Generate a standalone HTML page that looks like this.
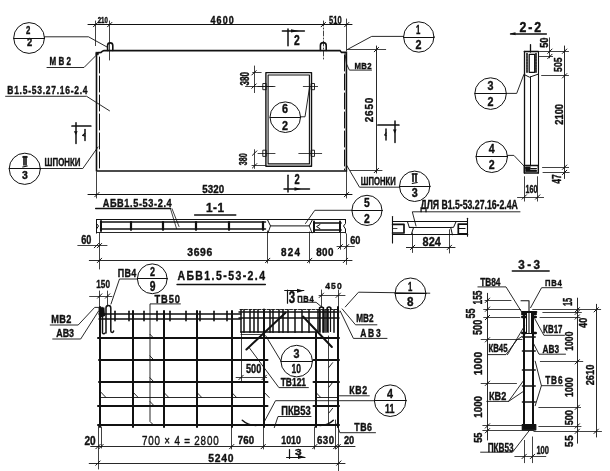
<!DOCTYPE html><html><head><meta charset="utf-8"><style>html,body{margin:0;padding:0;background:#fff;overflow:hidden}svg{display:block;will-change:transform}text{font-family:"Liberation Sans",sans-serif;fill:#111;stroke:#111;stroke-width:0.4px}</style></head><body>
<svg width="610" height="471" viewBox="0 0 610 471"><g stroke="#111" fill="none" stroke-linecap="round" stroke-linejoin="round">
<polyline points="96.5,171 96.5,53.6 98.8,52.6 101,52.4 102.5,51.2 104,50.6 340,50.6 341.5,52.4 346.4,52.4 346.4,171 96.5,171" stroke-width="1.6" fill="none" stroke-linejoin="miter"/>
<rect x="96" y="52.2" width="2.4" height="2.6" stroke-width="0.5" fill="#111"/>
<line x1="99.5" y1="57" x2="99.5" y2="170" stroke-width="1.0" stroke-dasharray="16,3"/>
<line x1="344.5" y1="55" x2="344.5" y2="170" stroke-width="1.0" stroke-dasharray="16,3"/>
<path d="M107.6,50.5 L107.6,45.5 A2.6,2.6 0 0 1 112.8,45.5 L112.8,50.5" stroke-width="1.6" fill="none" />
<path d="M320.4,50.5 L320.4,45.5 A2.9,2.9 0 0 1 326.2,45.5 L326.2,50.5" stroke-width="1.6" fill="none" />
<line x1="88" y1="24.5" x2="352" y2="24.5" stroke-width="1.0" />
<line x1="95.5" y1="21" x2="95.5" y2="45.6" stroke-width="0.8" />
<line x1="109.5" y1="21" x2="109.5" y2="60" stroke-width="0.8" />
<line x1="323.5" y1="21" x2="323.5" y2="61" stroke-width="0.8" stroke-dasharray="5,2,1,2"/>
<line x1="346.5" y1="19" x2="346.5" y2="51" stroke-width="0.8" />
<line x1="93.4" y1="26.8" x2="97.8" y2="22.4" stroke-width="1.0" />
<line x1="107.5" y1="26.8" x2="111.9" y2="22.4" stroke-width="1.0" />
<line x1="321.1" y1="26.8" x2="325.5" y2="22.4" stroke-width="1.0" />
<line x1="344.5" y1="26.8" x2="348.9" y2="22.4" stroke-width="1.0" />
<text transform="translate(97.65,22.6) " font-size="8.21" font-weight="bold" textLength="10.2" lengthAdjust="spacingAndGlyphs">210</text>
<text transform="translate(210.4,23.8) scale(0.88,1)" font-size="10.15" font-weight="bold" textLength="26.59" lengthAdjust="spacing">4600</text>
<text transform="translate(329.08,23.9) " font-size="10.6" font-weight="bold" textLength="12.6" lengthAdjust="spacingAndGlyphs">510</text>
<circle cx="29.1" cy="38" r="15.4" stroke-width="1.0" fill="none"/>
<line x1="13.7" y1="38.5" x2="44.5" y2="38.5" stroke-width="1.0" />
<text transform="translate(25.96,33.7) scale(0.69,1)" font-size="11.34" font-weight="bold">2</text>
<text transform="translate(27.06,46.4) scale(0.83,1)" font-size="11.34" font-weight="bold">2</text>
<polyline points="44.5,36.8 88.5,36.8 107,47" stroke-width="0.9" fill="none" />
<text transform="translate(49.4,65) scale(0.8,1)" font-size="10" font-weight="bold" textLength="27" lengthAdjust="spacing">МВ2</text>
<polyline points="47,67.5 84,67.5 96.8,54.7" stroke-width="0.9" fill="none" />
<text transform="translate(7.28,93.7) scale(0.8,1)" font-size="10.6" font-weight="bold" textLength="100.38" lengthAdjust="spacing">В1.5-53.27.16-2.4</text>
<polyline points="5.6,96.3 86.6,96.3 109.5,110.8" stroke-width="0.9" fill="none" />
<line x1="76" y1="122.7" x2="76" y2="143.4" stroke-width="1.5" />
<line x1="72" y1="126" x2="90.8" y2="126" stroke-width="1.7" />
<polygon points="73.9,131.2 77.7,131.2 75.8,135" fill="#111" stroke="none"/>
<line x1="85" y1="129.4" x2="85" y2="140.5" stroke-width="1.5" />
<polyline points="84.95,133.28 82.6,135.5 84.95,136.06" stroke-width="1.1" fill="none" />
<circle cx="24.8" cy="168.8" r="15.6" stroke-width="1.0" fill="none"/>
<line x1="9.2" y1="168.5" x2="40.4" y2="168.5" stroke-width="1.0" />
<line x1="22.8" y1="157" x2="27.2" y2="157" stroke-width="1.4" />
<line x1="24" y1="156.5" x2="24" y2="165" stroke-width="1.6" />
<line x1="26" y1="156.5" x2="26" y2="165" stroke-width="1.6" />
<line x1="22.8" y1="167" x2="27.2" y2="166" stroke-width="1.2" />
<text transform="translate(21.96,179) scale(0.93,1)" font-size="11.19" font-weight="bold">3</text>
<polyline points="40.4,168.5 82.8,168.5 98,147" stroke-width="0.9" fill="none" />
<text transform="translate(44.59,165.7) " font-size="10.3" font-weight="bold" textLength="35.9" lengthAdjust="spacingAndGlyphs">ШПОНКИ</text>
<rect x="265.9" y="72.6" width="45.6" height="93.6" stroke-width="1.4" fill="none"/>
<rect x="268.1" y="75" width="41.3" height="88.9" stroke-width="1.1" fill="none"/>
<rect x="263.2" y="83.5" width="3" height="6.2" stroke-width="0.9" fill="none"/>
<rect x="311.5" y="83.5" width="3" height="6.2" stroke-width="0.9" fill="none"/>
<rect x="263.2" y="150.2" width="3" height="6.2" stroke-width="0.9" fill="none"/>
<rect x="311.5" y="150.2" width="3" height="6.2" stroke-width="0.9" fill="none"/>
<line x1="258" y1="86.5" x2="275" y2="86.5" stroke-width="0.8" />
<line x1="303.3" y1="86.5" x2="317.6" y2="86.5" stroke-width="0.8" />
<line x1="258" y1="153.5" x2="275" y2="153.5" stroke-width="0.8" />
<line x1="298.8" y1="153.5" x2="321.7" y2="153.5" stroke-width="0.8" />
<line x1="254.5" y1="66" x2="254.5" y2="92.6" stroke-width="0.8" />
<line x1="252.7" y1="72.5" x2="261.2" y2="72.5" stroke-width="0.8" />
<line x1="245.5" y1="86.5" x2="273" y2="86.5" stroke-width="0.8" />
<line x1="251.8" y1="75" x2="256.2" y2="70.6" stroke-width="1.0" />
<line x1="251.8" y1="88.3" x2="256.2" y2="83.9" stroke-width="1.0" />
<text transform="translate(248.6,85.47) rotate(-90) " font-size="12.24" font-weight="bold" textLength="13.6" lengthAdjust="spacingAndGlyphs">380</text>
<line x1="254.5" y1="149.7" x2="254.5" y2="168.4" stroke-width="0.8" />
<line x1="252" y1="165.5" x2="265.7" y2="165.5" stroke-width="0.8" />
<line x1="252.4" y1="155.3" x2="256.8" y2="150.9" stroke-width="1.0" />
<line x1="252.4" y1="168" x2="256.8" y2="163.6" stroke-width="1.0" />
<text transform="translate(247,165.3) rotate(-90) " font-size="10.15" font-weight="bold" textLength="11.9" lengthAdjust="spacingAndGlyphs">380</text>
<circle cx="285.3" cy="117.2" r="15.3" stroke-width="1.0" fill="none"/>
<line x1="270" y1="117.5" x2="300.6" y2="117.5" stroke-width="1.0" />
<text transform="translate(282.12,113) scale(0.85,1)" font-size="12.69" font-weight="bold">6</text>
<text transform="translate(282.1,130) scale(0.8,1)" font-size="13.43" font-weight="bold">2</text>
<polyline points="300.6,116.8 305,116.8 309.5,87.6" stroke-width="0.9" fill="none" />
<line x1="288" y1="29.1" x2="288" y2="45.8" stroke-width="1.5" />
<line x1="282.4" y1="31" x2="304.4" y2="31" stroke-width="1.5" />
<polygon points="291,29.2 299,30.9 291,32.6" fill="#111" stroke="none"/>
<text transform="translate(293.89,44.6) scale(0.75,1)" font-size="13.73" font-weight="bold">2</text>
<line x1="288" y1="175.3" x2="288" y2="192" stroke-width="1.5" />
<line x1="284" y1="189" x2="309.5" y2="189" stroke-width="1.5" />
<polygon points="294.5,187.3 301,189 294.5,190.7" fill="#111" stroke="none"/>
<text transform="translate(294.45,183.7) scale(0.62,1)" font-size="15.07" font-weight="bold">2</text>
<circle cx="418.8" cy="37" r="15.2" stroke-width="1.0" fill="none"/>
<line x1="403.6" y1="37.5" x2="434" y2="37.5" stroke-width="1.0" />
<text transform="translate(416.1,33.5) scale(0.58,1)" font-size="13.43" font-weight="bold">1</text>
<text transform="translate(415.62,48.5) scale(0.85,1)" font-size="12.69" font-weight="bold">2</text>
<polyline points="403.6,36.4 371.7,36.4 347.2,49.6" stroke-width="0.9" fill="none" />
<text transform="translate(354.51,68.5) scale(0.8,1)" font-size="9.7" font-weight="bold" textLength="21.25" lengthAdjust="spacing">МВ2</text>
<polyline points="371.5,70.1 349.4,70.1 346.5,64 345,53.5" stroke-width="0.9" fill="none" />
<line x1="347.5" y1="49.5" x2="385.7" y2="49.5" stroke-width="0.8" />
<line x1="350.4" y1="170.5" x2="382" y2="170.5" stroke-width="0.8" />
<line x1="376.5" y1="46" x2="376.5" y2="173" stroke-width="0.9" />
<line x1="374.2" y1="51.8" x2="378.6" y2="47.4" stroke-width="1.0" />
<line x1="374.2" y1="172.7" x2="378.6" y2="168.3" stroke-width="1.0" />
<text transform="translate(372.5,122.24) rotate(-90) scale(0.88,1)" font-size="11.34" font-weight="bold" textLength="27.95" lengthAdjust="spacing">2650</text>
<line x1="377.9" y1="125" x2="398.9" y2="125" stroke-width="1.7" />
<line x1="395" y1="121.1" x2="395" y2="142.4" stroke-width="1.5" />
<polygon points="392.9,129.5 396.6,129.5 394.8,133.5" fill="#111" stroke="none"/>
<line x1="386" y1="129.1" x2="386" y2="139.9" stroke-width="1.5" />
<polyline points="386.15,132.88 384.6,135.04 386.15,135.58" stroke-width="1.1" fill="none" />
<polyline points="346.7,165.4 359.5,187.2 399.5,187.2" stroke-width="0.9" fill="none" />
<text transform="translate(360.8,184.8) " font-size="10.15" font-weight="bold" textLength="34.9" lengthAdjust="spacingAndGlyphs">ШПОНКИ</text>
<circle cx="414.7" cy="186.3" r="15.2" stroke-width="1.0" fill="none"/>
<line x1="399.5" y1="186.5" x2="429.9" y2="186.5" stroke-width="1.0" />
<line x1="412.2" y1="174" x2="417.2" y2="174" stroke-width="1.4" />
<line x1="413" y1="174" x2="413" y2="181.5" stroke-width="1.6" />
<line x1="416" y1="174" x2="416" y2="181.5" stroke-width="1.6" />
<line x1="412.2" y1="183.5" x2="417.2" y2="182.5" stroke-width="1.2" />
<text transform="translate(411.64,197) scale(0.9,1)" font-size="11.94" font-weight="bold">3</text>
<line x1="96.5" y1="172" x2="96.5" y2="198" stroke-width="0.8" />
<line x1="346.5" y1="171" x2="346.5" y2="198" stroke-width="0.8" />
<line x1="88" y1="194.5" x2="352" y2="194.5" stroke-width="1.0" />
<line x1="94.7" y1="196.8" x2="99.1" y2="192.4" stroke-width="1.0" />
<line x1="344.3" y1="196.8" x2="348.7" y2="192.4" stroke-width="1.0" />
<text transform="translate(202.36,193) " font-size="11.49" font-weight="bold" textLength="21.7" lengthAdjust="spacingAndGlyphs">5320</text>
<text transform="translate(102.66,207) scale(0.8,1)" font-size="11.49" font-weight="bold" textLength="86.25" lengthAdjust="spacing">АБВ1.5-53-2.4</text>
<line x1="95.6" y1="208.5" x2="170.5" y2="208.5" stroke-width="1.3" />
<line x1="170.5" y1="208.7" x2="176.5" y2="228.5" stroke-width="0.8" />
<line x1="172" y1="208.7" x2="179" y2="226.5" stroke-width="0.8" />
<text transform="translate(206.1,212) scale(0.88,1)" font-size="13.43" font-weight="bold" textLength="20.34" lengthAdjust="spacing">1-1</text>
<line x1="194.6" y1="215" x2="235.8" y2="215" stroke-width="1.4" />
<polyline points="96.5,219.6 96.5,232.9" stroke-width="1.0" fill="none" />
<line x1="96.5" y1="219.5" x2="345.5" y2="219.5" stroke-width="1.0" />
<line x1="96.5" y1="232.5" x2="268" y2="232.5" stroke-width="0.9" />
<line x1="100.5" y1="222" x2="265.5" y2="222" stroke-width="1.5" />
<line x1="100.5" y1="229" x2="265.5" y2="229" stroke-width="1.5" />
<line x1="101" y1="221" x2="101" y2="231" stroke-width="2.0" />
<line x1="131" y1="222" x2="131" y2="229.8" stroke-width="2.2" />
<line x1="163" y1="222" x2="163" y2="229.8" stroke-width="2.2" />
<line x1="196" y1="222" x2="196" y2="229.8" stroke-width="2.2" />
<line x1="229" y1="222" x2="229" y2="229.8" stroke-width="2.2" />
<line x1="263" y1="222" x2="263" y2="229.8" stroke-width="2.2" />
<polyline points="267.4,219.6 270.5,225.9 309.2,225.9 312.5,219.6" stroke-width="1.0" fill="none" />
<polyline points="270.5,225.9 268,232.9" stroke-width="0.9" fill="none" />
<polyline points="309.2,225.9 312,232.9" stroke-width="0.9" fill="none" />
<line x1="268" y1="232.5" x2="312" y2="232.5" stroke-width="0.9" />
<line x1="312" y1="232.5" x2="345.5" y2="232.5" stroke-width="0.9" />
<line x1="314.1" y1="223" x2="341.1" y2="223" stroke-width="1.5" />
<line x1="314.1" y1="230" x2="341.1" y2="230" stroke-width="1.5" />
<line x1="314" y1="221.5" x2="314" y2="231.5" stroke-width="2.0" />
<line x1="340" y1="221.5" x2="340" y2="231.5" stroke-width="2.0" />
<polyline points="320,224.5 316.6,226.6 320,228.7" stroke-width="1.0" fill="none" />
<polyline points="345.5,219.6 345.5,223.5 343.5,226 345.5,229 345.5,232.9" stroke-width="1.0" fill="none" />
<polyline points="96.5,219.6 96.5,223.5 98.5,226 96.5,229 96.5,232.9" stroke-width="1.0" fill="none" />
<circle cx="367" cy="210.4" r="15.1" stroke-width="1.0" fill="none"/>
<line x1="351.9" y1="210.5" x2="382.1" y2="210.5" stroke-width="1.0" />
<text transform="translate(364.1,207) scale(0.77,1)" font-size="13.43" font-weight="bold">5</text>
<text transform="translate(364.1,222.5) scale(0.77,1)" font-size="13.43" font-weight="bold">2</text>
<polyline points="351.9,210.3 314.8,210.3 305.5,223.5" stroke-width="0.9" fill="none" />
<line x1="99.5" y1="233" x2="99.5" y2="269" stroke-width="0.8" />
<line x1="77.8" y1="245.5" x2="107" y2="245.5" stroke-width="0.8" />
<line x1="97.3" y1="247.8" x2="101.7" y2="243.4" stroke-width="1.0" />
<line x1="94.3" y1="247.8" x2="98.7" y2="243.4" stroke-width="1.0" />
<text transform="translate(81.24,243.8) " font-size="12.09" font-weight="bold" textLength="10.2" lengthAdjust="spacingAndGlyphs">60</text>
<line x1="89.3" y1="260.5" x2="352" y2="260.5" stroke-width="0.9" />
<line x1="97.3" y1="262.6" x2="101.7" y2="258.2" stroke-width="1.0" />
<line x1="265.5" y1="262.6" x2="269.9" y2="258.2" stroke-width="1.0" />
<line x1="307.5" y1="262.6" x2="311.9" y2="258.2" stroke-width="1.0" />
<line x1="343.3" y1="262.6" x2="347.7" y2="258.2" stroke-width="1.0" />
<line x1="267.5" y1="231" x2="267.5" y2="263" stroke-width="0.8" />
<line x1="309.5" y1="232" x2="309.5" y2="263" stroke-width="0.8" />
<line x1="346.5" y1="233.8" x2="346.5" y2="264.4" stroke-width="0.8" />
<line x1="340.5" y1="233" x2="340.5" y2="249.3" stroke-width="0.8" />
<line x1="337" y1="246.5" x2="354.3" y2="246.5" stroke-width="0.8" />
<line x1="344.3" y1="248.9" x2="348.7" y2="244.5" stroke-width="1.0" />
<line x1="338.1" y1="248.9" x2="342.5" y2="244.5" stroke-width="1.0" />
<text transform="translate(187.35,256.4) scale(0.88,1)" font-size="11.79" font-weight="bold" textLength="28.3" lengthAdjust="spacing">3696</text>
<text transform="translate(280.96,255.9) scale(0.88,1)" font-size="11.19" font-weight="bold" textLength="21.48" lengthAdjust="spacing">824</text>
<text transform="translate(316.26,255.9) scale(0.88,1)" font-size="11.19" font-weight="bold" textLength="19.55" lengthAdjust="spacing">800</text>
<text transform="translate(350.16,244) " font-size="11.34" font-weight="bold" textLength="10.2" lengthAdjust="spacingAndGlyphs">60</text>
<text transform="translate(420.44,209.4) " font-size="12.09" font-weight="bold" textLength="97.4" lengthAdjust="spacingAndGlyphs">ДЛЯ В1.5-53.27.16-2.4А</text>
<polyline points="520,211.8 412.3,211.8 416,226" stroke-width="0.9" fill="none" />
<line x1="392.5" y1="216.6" x2="392.5" y2="243" stroke-width="1.1" />
<line x1="467.5" y1="218.2" x2="467.5" y2="236.2" stroke-width="1.1" />
<line x1="392.6" y1="221.5" x2="467.1" y2="221.5" stroke-width="1.1" />
<line x1="392.6" y1="234.5" x2="467.8" y2="234.5" stroke-width="1.1" />
<line x1="409.3" y1="227.5" x2="450.7" y2="227.5" stroke-width="1.0" />
<polyline points="407.4,221.5 409.3,227.4 413.6,227.4 411.6,233.5" stroke-width="1.0" fill="none" />
<polyline points="456,221.8 453.5,227.4 450.7,227.4 452.4,234.8" stroke-width="1.0" fill="none" />
<polyline points="392.6,224.3 404,224.3 404,233 392.6,233" stroke-width="1.7" fill="none" />
<line x1="392.6" y1="228.5" x2="397" y2="228.5" stroke-width="0.8" />
<polyline points="467.1,224.1 458.3,224.1 458.3,233.9 467.1,233.9" stroke-width="1.7" fill="none" />
<line x1="458.3" y1="228.5" x2="465" y2="228.5" stroke-width="1.2" />
<line x1="406.4" y1="247.5" x2="455" y2="247.5" stroke-width="0.9" />
<line x1="410.4" y1="249.6" x2="414.8" y2="245.2" stroke-width="1.0" />
<line x1="447.2" y1="249.6" x2="451.6" y2="245.2" stroke-width="1.0" />
<line x1="412.5" y1="233" x2="412.5" y2="252.5" stroke-width="0.8" />
<line x1="449.5" y1="229.7" x2="449.5" y2="253" stroke-width="0.8" />
<text transform="translate(422.61,246.3) " font-size="13.13" font-weight="bold" textLength="18.2" lengthAdjust="spacingAndGlyphs">824</text>
<text transform="translate(519.38,31.8) scale(0.88,1)" font-size="14.03" font-weight="bold" textLength="24.66" lengthAdjust="spacing">2-2</text>
<line x1="510.5" y1="34" x2="546.4" y2="34" stroke-width="1.4" />
<polygon points="510,33.6 515.5,32.2 515.5,35.2" fill="#111" stroke="none"/>
<line x1="524.5" y1="51.5" x2="524.5" y2="173" stroke-width="1.3" />
<line x1="538.5" y1="51.5" x2="538.5" y2="173" stroke-width="1.1" />
<line x1="530.5" y1="77" x2="530.5" y2="166" stroke-width="1.0" />
<polyline points="524.3,51.5 538.3,51.5" stroke-width="1.3" fill="none" />
<polyline points="524.3,74.6 529.5,77.2 538.3,74.1" stroke-width="1.0" fill="none" />
<rect x="529.2" y="54.4" width="5.5" height="17.9" stroke-width="1.3" fill="none"/>
<line x1="527" y1="53.5" x2="527" y2="73" stroke-width="1.6" stroke-dasharray="2,0.8"/>
<line x1="536" y1="53.5" x2="536" y2="73" stroke-width="1.6" stroke-dasharray="2,0.8"/>
<line x1="530.5" y1="44.7" x2="530.5" y2="52" stroke-width="1.3" />
<rect x="524.3" y="165.5" width="14" height="7.5" stroke-width="1.4" fill="none"/>
<rect x="526" y="167" width="4" height="2.5" stroke-width="1.0" fill="#111"/>
<line x1="530.6" y1="168.5" x2="536.5" y2="168.5" stroke-width="1.0" />
<rect x="526" y="170" width="10.5" height="1.6" stroke-width="0.8" fill="#111"/>
<circle cx="490.6" cy="93.6" r="15.8" stroke-width="1.0" fill="none"/>
<line x1="474.8" y1="93.5" x2="506.4" y2="93.5" stroke-width="1.0" />
<text transform="translate(487.6,90) scale(0.8,1)" font-size="13.43" font-weight="bold">3</text>
<text transform="translate(487.62,105.5) scale(0.85,1)" font-size="12.69" font-weight="bold">2</text>
<polyline points="506.4,93.4 516.7,93.4 523.8,74.6" stroke-width="0.9" fill="none" />
<circle cx="491.8" cy="156.8" r="15.7" stroke-width="1.0" fill="none"/>
<line x1="476.1" y1="156.5" x2="507.5" y2="156.5" stroke-width="1.0" />
<text transform="translate(488.8,153) scale(0.79,1)" font-size="13.43" font-weight="bold">4</text>
<text transform="translate(488.8,169) scale(0.79,1)" font-size="13.43" font-weight="bold">2</text>
<polyline points="507.5,155.4 513.9,155.4 524,166" stroke-width="0.9" fill="none" />
<line x1="564.5" y1="46" x2="564.5" y2="178.5" stroke-width="0.9" />
<line x1="539.5" y1="51.5" x2="568.5" y2="51.5" stroke-width="0.8" />
<line x1="541.6" y1="75.5" x2="568.5" y2="75.5" stroke-width="0.8" />
<line x1="539.5" y1="56.5" x2="552.6" y2="56.5" stroke-width="0.8" />
<line x1="542.5" y1="167.5" x2="568.6" y2="167.5" stroke-width="0.8" />
<line x1="543" y1="172.5" x2="569.2" y2="172.5" stroke-width="0.8" />
<line x1="562.4" y1="53.4" x2="566.8" y2="49" stroke-width="1.0" />
<line x1="562.4" y1="78" x2="566.8" y2="73.6" stroke-width="1.0" />
<line x1="562.4" y1="169.4" x2="566.8" y2="165" stroke-width="1.0" />
<line x1="562.4" y1="174.6" x2="566.8" y2="170.2" stroke-width="1.0" />
<line x1="549.5" y1="37.8" x2="549.5" y2="57.8" stroke-width="0.8" />
<line x1="547.7" y1="53.4" x2="552.1" y2="49" stroke-width="1.0" />
<line x1="547.7" y1="58.6" x2="552.1" y2="54.2" stroke-width="1.0" />
<text transform="translate(547.8,47.84) rotate(-90) " font-size="11.34" font-weight="bold" textLength="10.4" lengthAdjust="spacingAndGlyphs">50</text>
<text transform="translate(561.6,71.94) rotate(-90) " font-size="11.34" font-weight="bold" textLength="14.5" lengthAdjust="spacingAndGlyphs">505</text>
<text transform="translate(562.5,124.74) rotate(-90) " font-size="11.34" font-weight="bold" textLength="20.8" lengthAdjust="spacingAndGlyphs">2100</text>
<text transform="translate(560.9,183.68) rotate(-90) " font-size="12.54" font-weight="bold" textLength="9.5" lengthAdjust="spacingAndGlyphs">47</text>
<line x1="524.5" y1="176.7" x2="524.5" y2="201.1" stroke-width="0.8" />
<line x1="537.5" y1="176.7" x2="537.5" y2="201.1" stroke-width="0.8" />
<line x1="517.5" y1="197.5" x2="543.6" y2="197.5" stroke-width="0.8" />
<line x1="522.1" y1="199.2" x2="526.5" y2="194.8" stroke-width="1.0" />
<line x1="535.5" y1="199.2" x2="539.9" y2="194.8" stroke-width="1.0" />
<text transform="translate(525.48,192.8) " font-size="10.6" font-weight="bold" textLength="11.9" lengthAdjust="spacingAndGlyphs">160</text>
<text transform="translate(177.41,279.8) scale(0.8,1)" font-size="13.13" font-weight="bold" textLength="109.5" lengthAdjust="spacing">АБВ1.5-53-2.4</text>
<line x1="177" y1="284.5" x2="265.4" y2="284.5" stroke-width="1.3" />
<circle cx="152.3" cy="278.8" r="14.9" stroke-width="1.0" fill="none"/>
<line x1="137.4" y1="278.5" x2="167.2" y2="278.5" stroke-width="1.0" />
<text transform="translate(149.92,276.4) scale(0.71,1)" font-size="12.69" font-weight="bold">2</text>
<text transform="translate(149.87,291.2) scale(0.73,1)" font-size="14.18" font-weight="bold">9</text>
<text transform="translate(117.86,276.7) scale(0.8,1)" font-size="11.19" font-weight="bold" textLength="23" lengthAdjust="spacing">ПВ4</text>
<polyline points="137.4,279 119.5,279 111,304" stroke-width="0.9" fill="none" />
<text transform="translate(96.25,287.6) " font-size="11.79" font-weight="bold" textLength="13.7" lengthAdjust="spacingAndGlyphs">150</text>
<line x1="89.6" y1="296.5" x2="111.9" y2="296.5" stroke-width="0.8" />
<line x1="99.5" y1="291" x2="99.5" y2="308" stroke-width="0.8" />
<line x1="107.5" y1="291" x2="107.5" y2="306" stroke-width="0.8" />
<line x1="97.5" y1="298.2" x2="101.9" y2="293.8" stroke-width="1.0" />
<line x1="105.4" y1="298.2" x2="109.8" y2="293.8" stroke-width="1.0" />
<text transform="translate(154.45,303) scale(0.8,1)" font-size="11.64" font-weight="bold" textLength="32" lengthAdjust="spacing">ТВ50</text>
<polyline points="180.4,303.9 150,303.9 150,421.5 153.5,425" stroke-width="0.9" fill="none" />
<polyline points="150,334.3 154,338.5" stroke-width="0.9" fill="none" />
<polyline points="150,355.9 154,360.1" stroke-width="0.9" fill="none" />
<polyline points="150,377.8 154,382" stroke-width="0.9" fill="none" />
<polyline points="150,401.5 154,405.7" stroke-width="0.9" fill="none" />
<text transform="translate(51.16,322.5) scale(0.8,1)" font-size="11.49" font-weight="bold" textLength="25.37" lengthAdjust="spacing">МВ2</text>
<polyline points="50.2,325 78.2,325 94.7,307.4 103,307.4" stroke-width="0.9" fill="none" />
<text transform="translate(56.26,336.5) " font-size="11.49" font-weight="bold" textLength="17.8" lengthAdjust="spacingAndGlyphs">АВ3</text>
<polyline points="52.7,339 80.7,339 98.6,311" stroke-width="0.9" fill="none" />
<line x1="99" y1="314" x2="241" y2="314" stroke-width="1.5" />
<line x1="99" y1="319" x2="241" y2="319" stroke-width="1.5" />
<line x1="239" y1="312" x2="339" y2="312" stroke-width="1.5" />
<line x1="239" y1="318" x2="339" y2="318" stroke-width="1.5" />
<line x1="240" y1="309.5" x2="339" y2="309.5" stroke-width="0.9" stroke-dasharray="3,1.5"/>
<line x1="115" y1="311.3" x2="115" y2="320.7" stroke-width="1.6" />
<line x1="129" y1="311.3" x2="129" y2="320.7" stroke-width="1.6" />
<line x1="144" y1="311.3" x2="144" y2="320.7" stroke-width="1.6" />
<line x1="157" y1="311.3" x2="157" y2="320.7" stroke-width="1.6" />
<line x1="170" y1="311.3" x2="170" y2="320.7" stroke-width="1.6" />
<line x1="186" y1="311.3" x2="186" y2="320.7" stroke-width="1.6" />
<line x1="200" y1="311.3" x2="200" y2="320.7" stroke-width="1.6" />
<line x1="214" y1="311.3" x2="214" y2="320.7" stroke-width="1.6" />
<line x1="227" y1="311.3" x2="227" y2="320.7" stroke-width="1.6" />
<line x1="241" y1="332" x2="316" y2="332" stroke-width="1.6" />
<line x1="241" y1="334.5" x2="264" y2="334.5" stroke-width="0.8" />
<line x1="241" y1="309.8" x2="241" y2="332.3" stroke-width="1.5" />
<line x1="244" y1="309.8" x2="244" y2="332.3" stroke-width="1.5" />
<line x1="250" y1="309.8" x2="250" y2="332.3" stroke-width="1.5" />
<line x1="254" y1="309.8" x2="254" y2="332.3" stroke-width="1.5" />
<line x1="258" y1="309.8" x2="258" y2="332.3" stroke-width="1.5" />
<line x1="270" y1="309.8" x2="270" y2="332.3" stroke-width="1.5" />
<line x1="273" y1="309.8" x2="273" y2="332.3" stroke-width="1.5" />
<line x1="279" y1="309.8" x2="279" y2="332.3" stroke-width="1.5" />
<line x1="283" y1="309.8" x2="283" y2="332.3" stroke-width="1.5" />
<line x1="288" y1="309.8" x2="288" y2="332.3" stroke-width="1.5" />
<line x1="295" y1="309.8" x2="295" y2="332.3" stroke-width="1.5" />
<line x1="302" y1="309.8" x2="302" y2="332.3" stroke-width="1.5" />
<line x1="309" y1="309.8" x2="309" y2="332.3" stroke-width="1.5" />
<line x1="318" y1="309.8" x2="318" y2="332.3" stroke-width="1.5" />
<line x1="320" y1="309.8" x2="320" y2="332.3" stroke-width="1.5" />
<line x1="323" y1="309.8" x2="323" y2="332.3" stroke-width="1.5" />
<line x1="324" y1="309.8" x2="324" y2="332.3" stroke-width="1.5" />
<line x1="326" y1="309.8" x2="326" y2="332.3" stroke-width="1.5" />
<line x1="328" y1="309.8" x2="328" y2="332.3" stroke-width="1.5" />
<line x1="334" y1="309.8" x2="334" y2="332.3" stroke-width="1.5" />
<line x1="319.5" y1="307.5" x2="319.5" y2="331.5" stroke-width="1.2" />
<line x1="323.5" y1="307.5" x2="323.5" y2="331.5" stroke-width="1.2" />
<line x1="327.5" y1="307.5" x2="327.5" y2="331.5" stroke-width="1.2" />
<line x1="330.5" y1="307.5" x2="330.5" y2="331.5" stroke-width="1.2" />
<path d="M319.5,309 A2,2 0 0 1 323.5,309" stroke-width="1.3" fill="none" />
<path d="M327,309 A2,2 0 0 1 331,309" stroke-width="1.3" fill="none" />
<path d="M106,333 L106,308 A2.4,2.4 0 0 1 110.8,308 L110.8,331 A1.4,1.4 0 0 0 113.6,331" stroke-width="1.5" fill="none" />
<path d="M102.5,309 L102.5,333 A1.4,1.4 0 0 0 105,333" stroke-width="1.5" fill="none" />
<polygon points="98.5,308 104.5,307.5 105,316 99,318" fill="#111" stroke="none"/>
<line x1="100" y1="307" x2="100" y2="427" stroke-width="2.0" />
<line x1="133" y1="311" x2="133" y2="427" stroke-width="2.0" />
<line x1="164" y1="311" x2="164" y2="427" stroke-width="2.0" />
<line x1="197" y1="311" x2="197" y2="427" stroke-width="2.0" />
<line x1="232" y1="311" x2="232" y2="427" stroke-width="2.0" />
<line x1="264" y1="309.5" x2="264" y2="427" stroke-width="2.0" />
<line x1="316" y1="332.5" x2="316" y2="427" stroke-width="2.0" />
<line x1="338" y1="307" x2="338" y2="427" stroke-width="2.0" />
<line x1="98" y1="338" x2="339" y2="338" stroke-width="2.0" />
<line x1="99" y1="360" x2="267.5" y2="360" stroke-width="2.0" />
<line x1="313.5" y1="360" x2="339" y2="360" stroke-width="2.0" />
<line x1="99" y1="382" x2="267.5" y2="382" stroke-width="2.0" />
<line x1="313.5" y1="382" x2="339" y2="382" stroke-width="2.0" />
<line x1="98" y1="406" x2="267.5" y2="406" stroke-width="2.0" />
<line x1="313.5" y1="406" x2="339" y2="406" stroke-width="2.0" />
<line x1="98" y1="425" x2="339" y2="425" stroke-width="2.0" />
<line x1="101" y1="397.5" x2="264.2" y2="397.5" stroke-width="0.9" />
<line x1="315.8" y1="397.5" x2="338" y2="397.5" stroke-width="0.9" />
<polyline points="101,392.3 106,397.5" stroke-width="0.9" fill="none" />
<polyline points="133.2,392.3 138.2,397.5" stroke-width="0.9" fill="none" />
<polyline points="163.8,392.3 168.8,397.5" stroke-width="0.9" fill="none" />
<polyline points="196.8,392.3 201.8,397.5" stroke-width="0.9" fill="none" />
<polyline points="231.6,392.3 236.6,397.5" stroke-width="0.9" fill="none" />
<polyline points="264.2,392.3 269.2,397.5" stroke-width="0.9" fill="none" />
<polyline points="315.8,392.3 320.8,397.5" stroke-width="0.9" fill="none" />
<line x1="241.5" y1="332.3" x2="241.5" y2="381" stroke-width="0.8" />
<line x1="328.5" y1="336" x2="328.5" y2="424" stroke-width="0.8" />
<polyline points="328.9,367.4 332.6,362.7" stroke-width="0.9" fill="none" />
<polyline points="328.9,387.2 332.6,382.5" stroke-width="0.9" fill="none" />
<polyline points="328.9,413 332.6,408.3" stroke-width="0.9" fill="none" />
<line x1="246.4" y1="349.5" x2="285.5" y2="312.8" stroke-width="2.0" />
<line x1="303" y1="316.5" x2="331.9" y2="347" stroke-width="2.0" />
<path d="M242.3,420.2 Q248,425.4 256,425.4" stroke-width="1.5" fill="none" />
<path d="M333.3,420.2 Q328,425.4 320,425.4" stroke-width="1.5" fill="none" />
<circle cx="296.7" cy="361.1" r="15.8" stroke-width="1.0" fill="none"/>
<line x1="280.9" y1="361.5" x2="312.5" y2="361.5" stroke-width="1.0" />
<text transform="translate(293.6,358) scale(0.8,1)" font-size="13.43" font-weight="bold">3</text>
<text transform="translate(291.6,373) " font-size="13.43" font-weight="bold" textLength="9.5" lengthAdjust="spacingAndGlyphs">10</text>
<line x1="281" y1="361.1" x2="265.7" y2="335.7" stroke-width="0.9" />
<text transform="translate(280.66,385.7) " font-size="11.49" font-weight="bold" textLength="25.4" lengthAdjust="spacingAndGlyphs">ТВ121</text>
<polyline points="308.4,387.6 278.9,387.6 249.4,347.9" stroke-width="0.9" fill="none" />
<text transform="translate(245.94,373.3) " font-size="12.09" font-weight="bold" textLength="15.3" lengthAdjust="spacingAndGlyphs">500</text>
<line x1="236.1" y1="377.5" x2="266.7" y2="377.5" stroke-width="0.8" />
<line x1="238.9" y1="379.6" x2="243.3" y2="375.2" stroke-width="1.0" />
<line x1="262" y1="379.6" x2="266.4" y2="375.2" stroke-width="1.0" />
<line x1="287.5" y1="290.2" x2="287.5" y2="303.2" stroke-width="1.2" />
<line x1="284.7" y1="290.5" x2="303.8" y2="290.5" stroke-width="1.2" />
<polygon points="297,288.7 303.8,290.7 297,292.7" fill="#111" stroke="none"/>
<text transform="translate(288.83,303) scale(0.73,1)" font-size="15.82" font-weight="bold">3</text>
<text transform="translate(297.22,301.6) scale(0.8,1)" font-size="9.4" font-weight="bold" textLength="20.62" lengthAdjust="spacing">ПВ4</text>
<polyline points="298.4,302.3 316.1,302.3 322.7,307.8" stroke-width="0.9" fill="none" />
<text transform="translate(325.21,289) scale(0.88,1)" font-size="9.7" font-weight="bold" textLength="18.75" lengthAdjust="spacing">450</text>
<line x1="319" y1="295.5" x2="345" y2="295.5" stroke-width="0.8" />
<line x1="321.5" y1="290" x2="321.5" y2="307" stroke-width="0.8" />
<line x1="338.5" y1="290" x2="338.5" y2="307" stroke-width="0.8" />
<line x1="319.2" y1="297.5" x2="323.6" y2="293.1" stroke-width="1.0" />
<line x1="336" y1="297.5" x2="340.4" y2="293.1" stroke-width="1.0" />
<circle cx="410.5" cy="293.4" r="15.4" stroke-width="1.0" fill="none"/>
<line x1="395.1" y1="293.5" x2="425.9" y2="293.5" stroke-width="1.0" />
<text transform="translate(408.1,290.5) scale(0.58,1)" font-size="13.43" font-weight="bold">1</text>
<text transform="translate(407.1,305.5) scale(0.87,1)" font-size="13.43" font-weight="bold">8</text>
<polyline points="429.8,293.2 358.5,292.2 345.3,306.9" stroke-width="0.9" fill="none" />
<text transform="translate(356.18,322.1) " font-size="10.6" font-weight="bold" textLength="17.3" lengthAdjust="spacingAndGlyphs">МВ2</text>
<polyline points="376.9,324.8 355.5,324.8 342.2,308.9" stroke-width="0.9" fill="none" />
<text transform="translate(360.28,337.4) scale(0.8,1)" font-size="10.6" font-weight="bold" textLength="25.5" lengthAdjust="spacing">АВ3</text>
<polyline points="387,338.4 353.4,338.4 340.2,311" stroke-width="0.9" fill="none" />
<text transform="translate(349.37,394.4) scale(0.8,1)" font-size="11.04" font-weight="bold" textLength="22.12" lengthAdjust="spacing">КВ2</text>
<polyline points="339.5,395.8 369.3,395.8" stroke-width="0.9" fill="none" />
<polyline points="374.3,400.7 275.5,400.7 264.4,421.5" stroke-width="0.9" fill="none" />
<circle cx="390.2" cy="400.7" r="15.8" stroke-width="1.0" fill="none"/>
<line x1="374.4" y1="400.5" x2="406" y2="400.5" stroke-width="1.0" />
<text transform="translate(387.1,397.5) scale(0.8,1)" font-size="13.43" font-weight="bold">4</text>
<text transform="translate(385.1,413) " font-size="13.43" font-weight="bold" textLength="9.5" lengthAdjust="spacingAndGlyphs">11</text>
<text transform="translate(281.21,415.3) " font-size="12.84" font-weight="bold" textLength="29.5" lengthAdjust="spacingAndGlyphs">ПКВ53</text>
<polyline points="311,416.5 278,416.5 274.3,427.6" stroke-width="0.9" fill="none" />
<text transform="translate(354.27,431) scale(0.8,1)" font-size="11.04" font-weight="bold" textLength="22.12" lengthAdjust="spacing">ТВ6</text>
<polyline points="375.5,432.7 339.8,432.7 337,424" stroke-width="0.9" fill="none" />
<line x1="98.5" y1="425.4" x2="98.5" y2="469" stroke-width="0.8" />
<line x1="101.5" y1="427" x2="101.5" y2="448" stroke-width="0.8" />
<line x1="90.7" y1="446.5" x2="355" y2="446.5" stroke-width="0.9" />
<line x1="95.8" y1="448.8" x2="100.2" y2="444.4" stroke-width="1.0" />
<line x1="98.8" y1="448.8" x2="103.2" y2="444.4" stroke-width="1.0" />
<line x1="229.5" y1="448.8" x2="233.9" y2="444.4" stroke-width="1.0" />
<line x1="261" y1="448.8" x2="265.4" y2="444.4" stroke-width="1.0" />
<line x1="312.6" y1="448.8" x2="317" y2="444.4" stroke-width="1.0" />
<line x1="333.5" y1="448.8" x2="337.9" y2="444.4" stroke-width="1.0" />
<line x1="336" y1="448.8" x2="340.4" y2="444.4" stroke-width="1.0" />
<line x1="231.5" y1="427" x2="231.5" y2="449" stroke-width="0.8" />
<line x1="263.5" y1="427" x2="263.5" y2="449" stroke-width="0.8" />
<line x1="314.5" y1="427" x2="314.5" y2="449" stroke-width="0.8" />
<line x1="335.5" y1="420" x2="335.5" y2="449" stroke-width="0.8" />
<line x1="338.5" y1="420" x2="338.5" y2="471" stroke-width="0.8" />
<text transform="translate(84.43,444.8) " font-size="12.24" font-weight="bold" textLength="11.2" lengthAdjust="spacingAndGlyphs">20</text>
<text transform="translate(141.93,444.8) scale(0.8,1)" font-size="12.24" font-weight="normal" textLength="95.87" lengthAdjust="spacing">700 × 4 = 2800</text>
<text transform="translate(237.87,443.6) scale(0.88,1)" font-size="11.04" font-weight="bold" textLength="18.64" lengthAdjust="spacing">760</text>
<text transform="translate(281.27,443.6) " font-size="11.04" font-weight="bold" textLength="19.7" lengthAdjust="spacingAndGlyphs">1010</text>
<text transform="translate(316.97,443.6) scale(0.88,1)" font-size="11.04" font-weight="bold" textLength="19.55" lengthAdjust="spacing">630</text>
<text transform="translate(343.97,443.8) " font-size="11.04" font-weight="bold" textLength="10.3" lengthAdjust="spacingAndGlyphs">20</text>
<text transform="translate(208.35,461.6) scale(0.88,1)" font-size="11.79" font-weight="bold" textLength="28.52" lengthAdjust="spacing">5240</text>
<line x1="89.2" y1="463.5" x2="345" y2="463.5" stroke-width="0.9" />
<line x1="95.8" y1="465.3" x2="100.2" y2="460.9" stroke-width="1.0" />
<line x1="336.6" y1="465.3" x2="341" y2="460.9" stroke-width="1.0" />
<line x1="289.5" y1="449.7" x2="289.5" y2="458.4" stroke-width="1.2" />
<line x1="286.6" y1="457.5" x2="305" y2="457.5" stroke-width="1.2" />
<polygon points="298,455.1 305,457.1 298,459.1" fill="#111" stroke="none"/>
<text transform="translate(294.92,454.7) scale(1.29,1)" font-size="9.25" font-weight="bold">3</text>
<text transform="translate(518.3,269.1) scale(0.88,1)" font-size="13.28" font-weight="bold" textLength="24.55" lengthAdjust="spacing">3-3</text>
<line x1="512.3" y1="271" x2="549.2" y2="271" stroke-width="1.4" />
<text transform="translate(480.16,285.7) " font-size="11.49" font-weight="bold" textLength="20.3" lengthAdjust="spacingAndGlyphs">ТВ84</text>
<polyline points="477.9,286.9 506,286.9 522.6,313.5" stroke-width="0.9" fill="none" />
<text transform="translate(545.11,285.7) scale(0.8,1)" font-size="9.55" font-weight="bold" textLength="20.75" lengthAdjust="spacing">ПВ4</text>
<polyline points="562,287.7 541.6,287.7 530.6,307.7" stroke-width="0.9" fill="none" />
<line x1="524" y1="312" x2="524" y2="428" stroke-width="2.0" />
<line x1="533" y1="312" x2="533" y2="428" stroke-width="2.0" />
<line x1="526.5" y1="312" x2="526.5" y2="333.5" stroke-width="1.0" />
<line x1="531.5" y1="312" x2="531.5" y2="333.5" stroke-width="1.0" />
<line x1="522" y1="312" x2="536.4" y2="312" stroke-width="1.8" />
<line x1="526.4" y1="333.5" x2="531.6" y2="333.5" stroke-width="1.0" />
<polyline points="521,300.8 529,300.8 529,333.2" stroke-width="1.1" fill="none" />
<line x1="522.2" y1="314" x2="525.6" y2="314" stroke-width="2.4" />
<line x1="532.2" y1="314" x2="535.8" y2="314" stroke-width="2.4" />
<line x1="522.2" y1="317" x2="525.6" y2="317" stroke-width="2.4" />
<line x1="532.2" y1="317" x2="535.8" y2="317" stroke-width="2.4" />
<line x1="522.2" y1="333" x2="525.6" y2="333" stroke-width="2.4" />
<line x1="532.2" y1="333" x2="535.8" y2="333" stroke-width="2.4" />
<line x1="522.5" y1="337" x2="535.2" y2="337" stroke-width="1.6" />
<line x1="522.5" y1="351" x2="535.2" y2="351" stroke-width="1.6" />
<line x1="522.5" y1="370" x2="535.2" y2="370" stroke-width="1.6" />
<line x1="522.5" y1="386" x2="535.2" y2="386" stroke-width="1.6" />
<line x1="522.5" y1="402" x2="535.2" y2="402" stroke-width="1.6" />
<rect x="522.3" y="424.6" width="13.5" height="5.2" stroke-width="1.2" fill="#111"/>
<line x1="487.5" y1="293.3" x2="487.5" y2="440" stroke-width="0.9" />
<line x1="485" y1="300.5" x2="511" y2="300.5" stroke-width="0.8" />
<line x1="483.7" y1="309.5" x2="520.5" y2="309.5" stroke-width="0.8" />
<line x1="483.7" y1="317.5" x2="519.9" y2="317.5" stroke-width="0.8" />
<line x1="481.1" y1="339.5" x2="522" y2="339.5" stroke-width="0.8" />
<line x1="481.1" y1="383.5" x2="516.5" y2="383.5" stroke-width="0.8" />
<line x1="482.8" y1="425.5" x2="521.6" y2="425.5" stroke-width="0.8" />
<line x1="482.8" y1="430.5" x2="534" y2="430.5" stroke-width="0.8" />
<line x1="485.3" y1="302.5" x2="489.7" y2="298.1" stroke-width="1.0" />
<line x1="485.3" y1="311.4" x2="489.7" y2="307" stroke-width="1.0" />
<line x1="485.3" y1="319.7" x2="489.7" y2="315.3" stroke-width="1.0" />
<line x1="485.3" y1="342" x2="489.7" y2="337.6" stroke-width="1.0" />
<line x1="485.3" y1="385.5" x2="489.7" y2="381.1" stroke-width="1.0" />
<line x1="485.3" y1="428.1" x2="489.7" y2="423.7" stroke-width="1.0" />
<line x1="485.3" y1="432.9" x2="489.7" y2="428.5" stroke-width="1.0" />
<text transform="translate(481.7,304.47) rotate(-90) " font-size="12.24" font-weight="bold" textLength="14" lengthAdjust="spacingAndGlyphs">155</text>
<text transform="translate(474.7,318.5) rotate(-90) " font-size="13.28" font-weight="bold" textLength="10.2" lengthAdjust="spacingAndGlyphs">55</text>
<text transform="translate(482.4,335.07) rotate(-90) " font-size="12.39" font-weight="bold" textLength="15.3" lengthAdjust="spacingAndGlyphs">500</text>
<text transform="translate(482.4,375.34) rotate(-90) scale(0.88,1)" font-size="11.49" font-weight="bold" textLength="26.7" lengthAdjust="spacing">1000</text>
<text transform="translate(482,417.63) rotate(-90) " font-size="11.04" font-weight="bold" textLength="21.6" lengthAdjust="spacingAndGlyphs">1000</text>
<text transform="translate(482,442.83) rotate(-90) " font-size="11.04" font-weight="bold" textLength="10.4" lengthAdjust="spacingAndGlyphs">55</text>
<line x1="577.5" y1="298.1" x2="577.5" y2="443.2" stroke-width="0.9" />
<line x1="596.5" y1="304.3" x2="596.5" y2="437" stroke-width="0.9" />
<line x1="532.7" y1="309.5" x2="600.7" y2="309.5" stroke-width="0.8" />
<line x1="542.8" y1="312.5" x2="581.4" y2="312.5" stroke-width="0.8" />
<line x1="540" y1="317.5" x2="580" y2="317.5" stroke-width="0.8" />
<line x1="540.3" y1="361.5" x2="582.8" y2="361.5" stroke-width="0.8" />
<line x1="538.8" y1="407.5" x2="580.6" y2="407.5" stroke-width="0.8" />
<line x1="538.8" y1="426.5" x2="581" y2="426.5" stroke-width="0.8" />
<line x1="533.9" y1="431.5" x2="601.5" y2="431.5" stroke-width="0.8" />
<line x1="575.1" y1="312" x2="579.5" y2="307.6" stroke-width="1.0" />
<line x1="575.1" y1="314.5" x2="579.5" y2="310.1" stroke-width="1.0" />
<line x1="575.1" y1="319.2" x2="579.5" y2="314.8" stroke-width="1.0" />
<line x1="575.1" y1="364" x2="579.5" y2="359.6" stroke-width="1.0" />
<line x1="575.1" y1="409.5" x2="579.5" y2="405.1" stroke-width="1.0" />
<line x1="575.1" y1="428.2" x2="579.5" y2="423.8" stroke-width="1.0" />
<line x1="575.1" y1="433.5" x2="579.5" y2="429.1" stroke-width="1.0" />
<line x1="594" y1="312" x2="598.4" y2="307.6" stroke-width="1.0" />
<line x1="594" y1="433.5" x2="598.4" y2="429.1" stroke-width="1.0" />
<text transform="translate(572.4,306.07) rotate(-90) " font-size="12.39" font-weight="bold" textLength="8.3" lengthAdjust="spacingAndGlyphs">15</text>
<text transform="translate(586.9,328.11) rotate(-90) scale(0.88,1)" font-size="10.3" font-weight="bold" textLength="11.82" lengthAdjust="spacing">40</text>
<text transform="translate(573.1,350.84) rotate(-90) " font-size="11.34" font-weight="bold" textLength="19.3" lengthAdjust="spacingAndGlyphs">1000</text>
<text transform="translate(573.1,397.04) rotate(-90) " font-size="11.34" font-weight="bold" textLength="19.7" lengthAdjust="spacingAndGlyphs">1000</text>
<text transform="translate(572.9,425.34) rotate(-90) " font-size="11.34" font-weight="bold" textLength="15.3" lengthAdjust="spacingAndGlyphs">500</text>
<text transform="translate(572.9,447.04) rotate(-90) scale(0.88,1)" font-size="11.34" font-weight="bold" textLength="13.52" lengthAdjust="spacing">55</text>
<text transform="translate(593.8,385.34) rotate(-90) " font-size="11.34" font-weight="bold" textLength="20.7" lengthAdjust="spacingAndGlyphs">2610</text>
<text transform="translate(543.09,332.6) " font-size="10.3" font-weight="bold" textLength="19.4" lengthAdjust="spacingAndGlyphs">КВ17</text>
<polyline points="564.5,335.3 543.9,335.3 534.8,318.8" stroke-width="0.9" fill="none" />
<text transform="translate(488.46,352.1) " font-size="11.34" font-weight="bold" textLength="19.1" lengthAdjust="spacingAndGlyphs">КВ45</text>
<polyline points="488.1,354.6 506,354.6 516.8,340 522,336.4" stroke-width="0.9" fill="none" />
<polyline points="507.5,354.6 524.5,326" stroke-width="0.9" fill="none" />
<text transform="translate(542.56,353.1) " font-size="11.34" font-weight="bold" textLength="16.5" lengthAdjust="spacingAndGlyphs">АВ3</text>
<polyline points="565.5,354.2 539,354.2 533.7,343.8" stroke-width="0.9" fill="none" />
<text transform="translate(489.05,400) " font-size="11.64" font-weight="bold" textLength="17.2" lengthAdjust="spacingAndGlyphs">КВ2</text>
<polyline points="486.8,401.4 508.5,401.4 524,380" stroke-width="0.9" fill="none" />
<polyline points="508.5,401.4 524,391" stroke-width="0.9" fill="none" />
<text transform="translate(545.19,383.6) scale(0.8,1)" font-size="10.3" font-weight="bold" textLength="21.62" lengthAdjust="spacing">ТВ6</text>
<polyline points="562.8,385.7 541.4,385.7 535.2,361.2" stroke-width="0.9" fill="none" />
<polyline points="541.4,385.7 535.2,405.7" stroke-width="0.9" fill="none" />
<text transform="translate(487.63,451.5) " font-size="12.24" font-weight="bold" textLength="26" lengthAdjust="spacingAndGlyphs">ПКВ53</text>
<polyline points="480.6,452.2 512.5,452.2 529.7,430" stroke-width="0.9" fill="none" />
<text transform="translate(536.39,453.6) " font-size="10.3" font-weight="bold" textLength="12.5" lengthAdjust="spacingAndGlyphs">100</text>
<line x1="514.8" y1="456.5" x2="545.8" y2="456.5" stroke-width="0.8" />
<line x1="522" y1="458.6" x2="526.4" y2="454.2" stroke-width="1.0" />
<line x1="530.3" y1="458.6" x2="534.7" y2="454.2" stroke-width="1.0" />
<line x1="524.5" y1="440.4" x2="524.5" y2="462.7" stroke-width="0.8" />
<line x1="532.5" y1="436.9" x2="532.5" y2="462.7" stroke-width="0.8" />
</g></svg></body></html>
